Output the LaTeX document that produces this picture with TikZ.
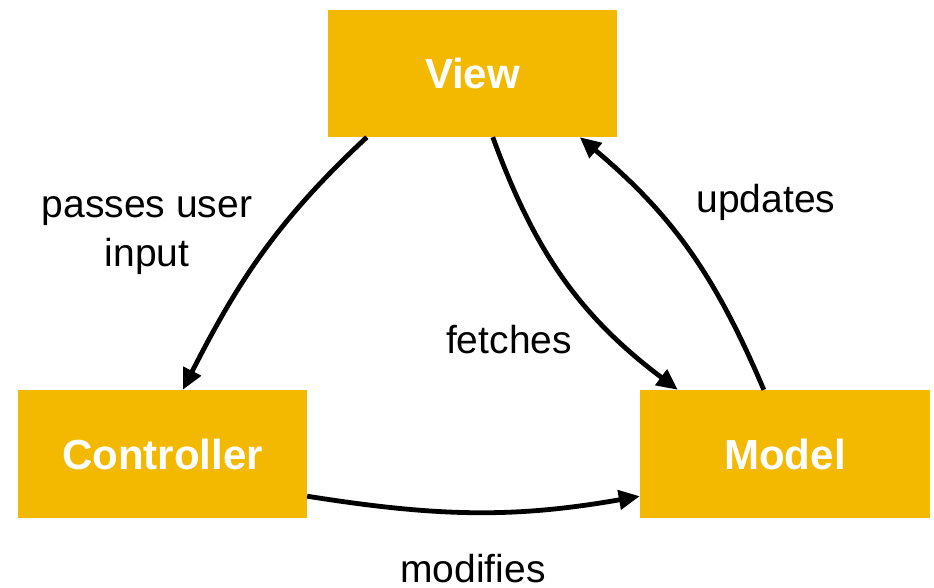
\documentclass[tikz,border=0pt]{standalone}
\usepackage{fontspec}
\setmainfont{Liberation Sans}
\usetikzlibrary{arrows.meta}
\definecolor{boxfill}{RGB}{242,185,0}
\begin{document}
\begin{tikzpicture}[x=1pt,y=1pt,
  mvcbox/.style={rectangle, fill=boxfill, draw=none, inner sep=0pt,
    minimum width=289pt, minimum height=128pt,
    text=white, font=\fontsize{42}{46}\selectfont\bfseries},
  flow/.style={line width=4.8pt, -{Triangle[length=21pt,width=19pt]}},
  lbl/.style={font=\fontsize{39}{49}\selectfont, text=black, inner sep=0pt, align=center, anchor=base}
]
\useasboundingbox (0,0) rectangle (934,587);

% the three components
\node[mvcbox, minimum height=127pt] (view) at (472.5,513.5) {View};
\node[mvcbox] (controller) at (162.5,133) {Controller};
\node[mvcbox, minimum width=290pt] (model) at (785,133) {Model};

% connectors
\draw[flow] ([xshift=39pt]view.south west) to[out=223,in=63]
  ([xshift=165pt]controller.north west);
\draw[flow] ([xshift=165pt]view.south west) to[out=-70,in=143]
  ([xshift=38pt]model.north west);
\draw[flow] ([xshift=124pt]model.north west) to[out=113,in=-40]
  ([xshift=252pt]view.south west);
\draw[flow] ([yshift=22pt]controller.south east) to[out=-9,in=190]
  ([yshift=22pt]model.south west);

% connector labels
\node[lbl] (lpass) at (147,320) {passes user\\input};
\node[lbl] (lupd) at (766,374) {updates};
\node[lbl] (lfetch) at (509,234) {fetches};
\node[lbl] (lmod) at (473,5) {modifies};
\end{tikzpicture}
\end{document}
